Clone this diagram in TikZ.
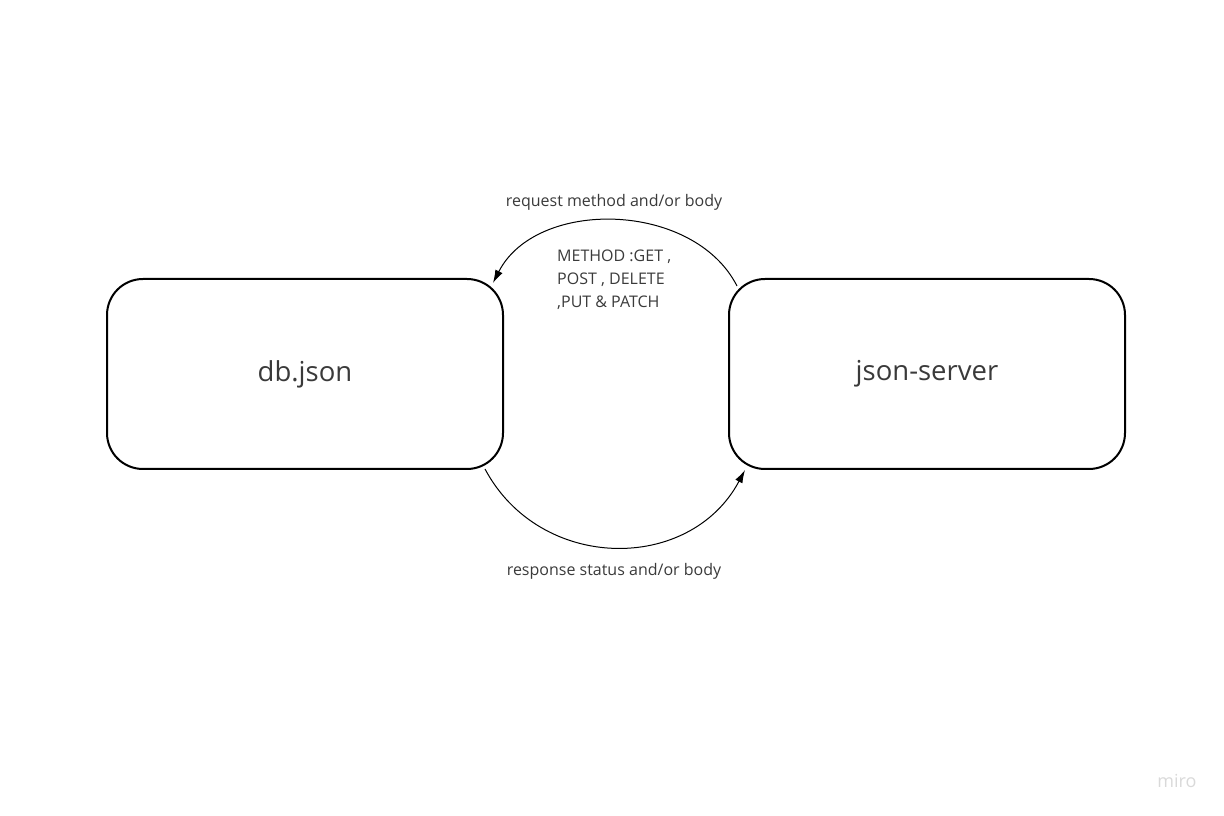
\documentclass[tikz,border=0pt]{standalone}
\usepackage{fontspec}
\setmainfont{Open Sans}
\usetikzlibrary{arrows.meta}
\definecolor{txt}{HTML}{3A3A3A}
\begin{document}
\begin{tikzpicture}[x=1pt,y=1pt]
  \useasboundingbox (0,0) rectangle (1224,816);

  \begin{scope}[every node/.style={draw, rounded corners=36pt, line width=2pt, minimum width=396pt, minimum height=190pt, font=\fontsize{27.5}{32}\selectfont, text=txt}]
    \node (db)     at (305,442) {db.json};
    \node (server) at (927,442) {json-server};
  \end{scope}

  \coordinate (reqstart) at ([shift={(9,-8)}]server.north west);
  \coordinate (reqend)   at ([shift={(-11,-5)}]db.north east);
  \coordinate (resstart) at ([shift={(-19,1)}]db.south east);
  \coordinate (resend)   at ([shift={(17,0)}]server.south west);

  \begin{scope}[every path/.style={line width=1pt}]
    \draw[-{Latex[length=13pt,width=8pt]}] (reqstart) to[out=117, in=63] (reqend);
    \draw[-{Latex[length=13pt,width=8pt]}] (resstart) to[out=-62, in=242, looseness=1.15] (resend);
  \end{scope}

  \begin{scope}[every node/.style={font=\fontsize{16}{23}\selectfont, text=txt}]
    \node (reqlabel) at (614,614) {request method and/or body};
    \node (methods) [anchor=north west, align=left, inner sep=0pt] at (557,566) {METHOD :GET ,\\POST , DELETE\\,PUT \& PATCH};
    \node (reslabel) at (614,245) {response status and/or body};
  \end{scope}
  \node (miro) [font=\fontsize{18}{20}\selectfont, text=gray!30] at (1177,35) {miro};

\end{tikzpicture}
\end{document}
